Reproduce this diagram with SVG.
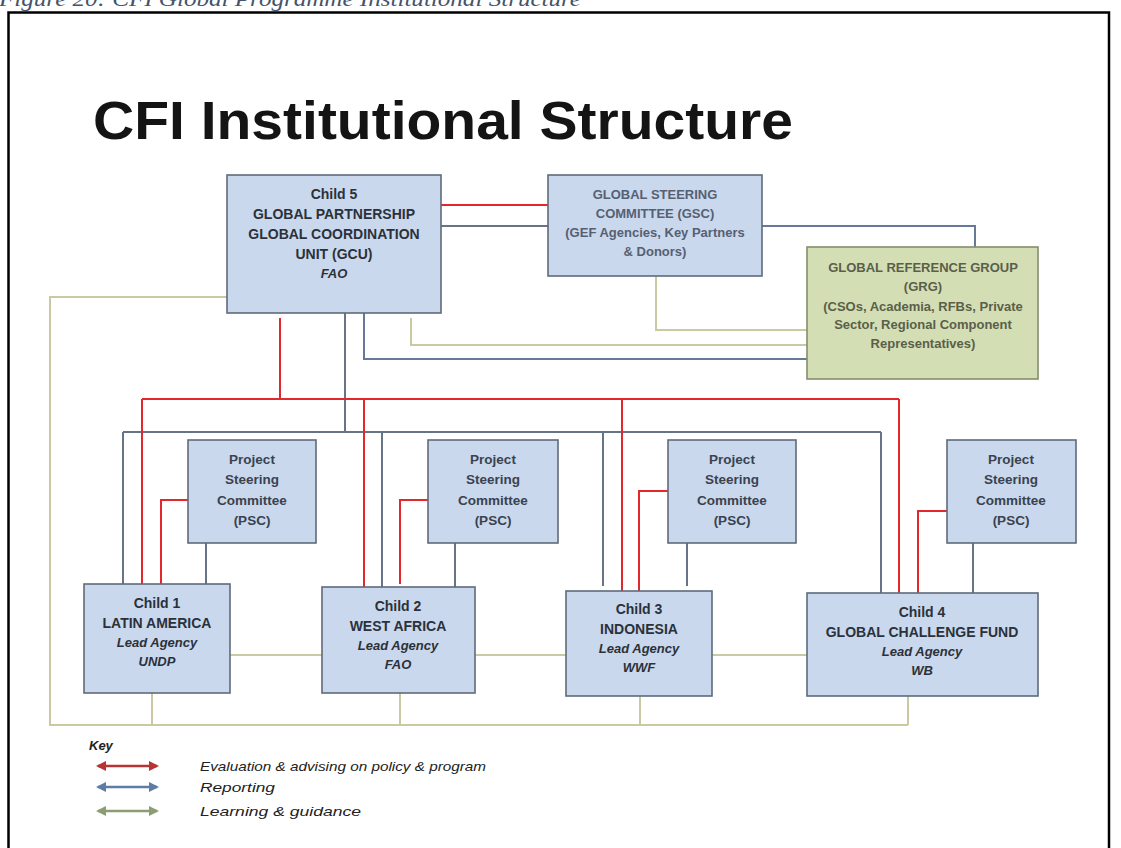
<svg xmlns="http://www.w3.org/2000/svg" width="1121" height="848" viewBox="0 0 1121 848">
  <defs>
    <style>
      .box { fill: #c9d8ec; stroke: #5f6b7a; stroke-width: 1.6; }
      .grg { fill: #d4deb4; stroke: #868d6c; stroke-width: 1.6; }
      .t { font-family: "Liberation Sans", Arial, sans-serif; font-weight: bold; text-anchor: middle; }
      .n14 { font-size: 14px; fill: #2b313b; }
      .n13 { font-size: 13px; fill: #2b313b; }
      .psc { font-size: 13.5px; fill: #3a424f; }
      .gsc { font-size: 13px; fill: #566072; }
      .grgt { font-size: 13px; fill: #5a5f4a; }
      .it { font-style: italic; }
      .red { fill: none; stroke: #e2282c; stroke-width: 2; }
      .gry { fill: none; stroke: #677486; stroke-width: 2; }
      .blu { fill: none; stroke: #66799a; stroke-width: 2; }
      .grn { fill: none; stroke: #cacaa2; stroke-width: 2; }
      .key { font-family: "Liberation Sans", Arial, sans-serif; font-style: italic; font-size: 13px; fill: #222; }
    </style>
    <marker id="ahR" viewBox="0 0 10 10" refX="8" refY="5" markerWidth="4" markerHeight="4" orient="auto-start-reverse">
      <path d="M0,0 L10,5 L0,10 z" fill="#b83434"/>
    </marker>
    <marker id="ahB" viewBox="0 0 10 10" refX="8" refY="5" markerWidth="4" markerHeight="4" orient="auto-start-reverse">
      <path d="M0,0 L10,5 L0,10 z" fill="#5b7da6"/>
    </marker>
    <marker id="ahG" viewBox="0 0 10 10" refX="8" refY="5" markerWidth="4" markerHeight="4" orient="auto-start-reverse">
      <path d="M0,0 L10,5 L0,10 z" fill="#8c9c74"/>
    </marker>
  </defs>

  <rect width="1121" height="848" fill="#ffffff"/>

  <!-- figure caption (top clipped by page edge) -->
  <text x="-1" y="6" font-family="'Liberation Serif', 'Times New Roman', serif" font-style="italic" font-size="22" fill="#44546a" textLength="582" lengthAdjust="spacingAndGlyphs">Figure 20: CFI Global Programme Institutional Structure</text>

  <!-- page frame -->
  <path d="M8.5,848 V12.5 H1109 V848" fill="none" stroke="#000" stroke-width="2.5"/>

  <!-- title -->
  <text x="93" y="139" font-family="'Liberation Sans', Arial, sans-serif" font-weight="bold" font-size="54" fill="#141414" textLength="700" lengthAdjust="spacingAndGlyphs">CFI Institutional Structure</text>

  <!-- connectors -->
  <g id="connectors">
    <!-- learning & guidance -->
    <path class="grn" d="M227,297 H50 V725 H908"/>
    <path class="grn" d="M152,693 V725 M400,693 V725 M640,696 V725 M908,696 V725"/>
    <path class="grn" d="M230,655 H322 M475,655 H566 M712,655 H807"/>
    <path class="grn" d="M656,276 V330 H807"/>
    <path class="grn" d="M411,318 V345 H807"/>
    <!-- reporting -->
    <path class="blu" d="M762,226 H975 V247"/>
    <path class="blu" d="M364,313 V359 H807"/>
    <path class="gry" d="M441,226 H548"/>
    <path class="gry" d="M345,313 V432 M123,432 H881"/>
    <path class="gry" d="M123,432 V584 M382,432 V587 M603,432 V586 M881,432 V593"/>
    <path class="gry" d="M206,543 V584 M455,543 V587 M687,543 V586 M973,543 V593"/>
    <!-- evaluation & advising -->
    <path class="red" d="M441,205 H548"/>
    <path class="red" d="M280,318 V399 M142,399 H899"/>
    <path class="red" d="M142,399 V584 M364,399 V594 M622,399 V591 M899,399 V593"/>
    <path class="red" d="M188,500 H161 V584 M428,500 H400 V584 M668,491 H639 V591 M947,511 H918 V593"/>
  </g>

  <g id="gcu">
    <rect class="box" x="227" y="175" width="214" height="138"/>
    <text class="t n14" x="334" y="199">Child 5</text>
    <text class="t n14" x="334" y="219">GLOBAL PARTNERSHIP</text>
    <text class="t n14" x="334" y="239">GLOBAL COORDINATION</text>
    <text class="t n14" x="334" y="259">UNIT (GCU)</text>
    <text class="t n13 it" x="334" y="278">FAO</text>
  </g>

  <g id="gsc">
    <rect class="box" x="548" y="175" width="214" height="101"/>
    <text class="t gsc" x="655" y="199">GLOBAL STEERING</text>
    <text class="t gsc" x="655" y="218">COMMITTEE (GSC)</text>
    <text class="t gsc" x="655" y="237">(GEF Agencies, Key Partners</text>
    <text class="t gsc" x="655" y="256">&amp; Donors)</text>
  </g>

  <g id="grg">
    <rect class="grg" x="807" y="247" width="231" height="132"/>
    <text class="t grgt" x="923" y="272">GLOBAL REFERENCE GROUP</text>
    <text class="t grgt" x="923" y="291">(GRG)</text>
    <text class="t grgt" x="923" y="311">(CSOs, Academia, RFBs, Private</text>
    <text class="t grgt" x="923" y="329">Sector, Regional Component</text>
    <text class="t grgt" x="923" y="348">Representatives)</text>
  </g>

  <g id="psc1">
    <rect class="box" x="188" y="440" width="128" height="103"/>
    <text class="t psc" x="252" y="464">Project</text>
    <text class="t psc" x="252" y="484">Steering</text>
    <text class="t psc" x="252" y="505">Committee</text>
    <text class="t psc" x="252" y="525">(PSC)</text>
  </g>
  <g id="psc2">
    <rect class="box" x="428" y="440" width="130" height="103"/>
    <text class="t psc" x="493" y="464">Project</text>
    <text class="t psc" x="493" y="484">Steering</text>
    <text class="t psc" x="493" y="505">Committee</text>
    <text class="t psc" x="493" y="525">(PSC)</text>
  </g>
  <g id="psc3">
    <rect class="box" x="668" y="440" width="128" height="103"/>
    <text class="t psc" x="732" y="464">Project</text>
    <text class="t psc" x="732" y="484">Steering</text>
    <text class="t psc" x="732" y="505">Committee</text>
    <text class="t psc" x="732" y="525">(PSC)</text>
  </g>
  <g id="psc4">
    <rect class="box" x="947" y="440" width="129" height="103"/>
    <text class="t psc" x="1011" y="464">Project</text>
    <text class="t psc" x="1011" y="484">Steering</text>
    <text class="t psc" x="1011" y="505">Committee</text>
    <text class="t psc" x="1011" y="525">(PSC)</text>
  </g>

  <g id="child1">
    <rect class="box" x="84" y="584" width="146" height="109"/>
    <text class="t n14" x="157" y="608">Child 1</text>
    <text class="t n14" x="157" y="628">LATIN AMERICA</text>
    <text class="t n13 it" x="157" y="647">Lead Agency</text>
    <text class="t n13 it" x="157" y="666">UNDP</text>
  </g>
  <g id="child2">
    <rect class="box" x="322" y="587" width="153" height="106"/>
    <text class="t n14" x="398" y="611">Child 2</text>
    <text class="t n14" x="398" y="631">WEST AFRICA</text>
    <text class="t n13 it" x="398" y="650">Lead Agency</text>
    <text class="t n13 it" x="398" y="669">FAO</text>
  </g>
  <g id="child3">
    <rect class="box" x="566" y="591" width="146" height="105"/>
    <text class="t n14" x="639" y="614">Child 3</text>
    <text class="t n14" x="639" y="634">INDONESIA</text>
    <text class="t n13 it" x="639" y="653">Lead Agency</text>
    <text class="t n13 it" x="639" y="672">WWF</text>
  </g>
  <g id="child4">
    <rect class="box" x="807" y="593" width="231" height="103"/>
    <text class="t n14" x="922" y="617">Child 4</text>
    <text class="t n14" x="922" y="637">GLOBAL CHALLENGE FUND</text>
    <text class="t n13 it" x="922" y="656">Lead Agency</text>
    <text class="t n13 it" x="922" y="675">WB</text>
  </g>

  <!-- key -->
  <g id="legend">
    <text class="key" x="89" y="750" font-weight="bold" font-size="12">Key</text>
    <line x1="98" y1="766" x2="157" y2="766" stroke="#b83434" stroke-width="2.5" marker-start="url(#ahR)" marker-end="url(#ahR)"/>
    <line x1="98" y1="787" x2="157" y2="787" stroke="#5b7da6" stroke-width="2.5" marker-start="url(#ahB)" marker-end="url(#ahB)"/>
    <line x1="98" y1="811" x2="157" y2="811" stroke="#8c9c74" stroke-width="2.5" marker-start="url(#ahG)" marker-end="url(#ahG)"/>
    <text class="key" x="200" y="771" textLength="286" lengthAdjust="spacingAndGlyphs">Evaluation &amp; advising on policy &amp; program</text>
    <text class="key" x="200" y="792" textLength="75" lengthAdjust="spacingAndGlyphs">Reporting</text>
    <text class="key" x="200" y="816" textLength="161" lengthAdjust="spacingAndGlyphs">Learning &amp; guidance</text>
  </g>
</svg>
